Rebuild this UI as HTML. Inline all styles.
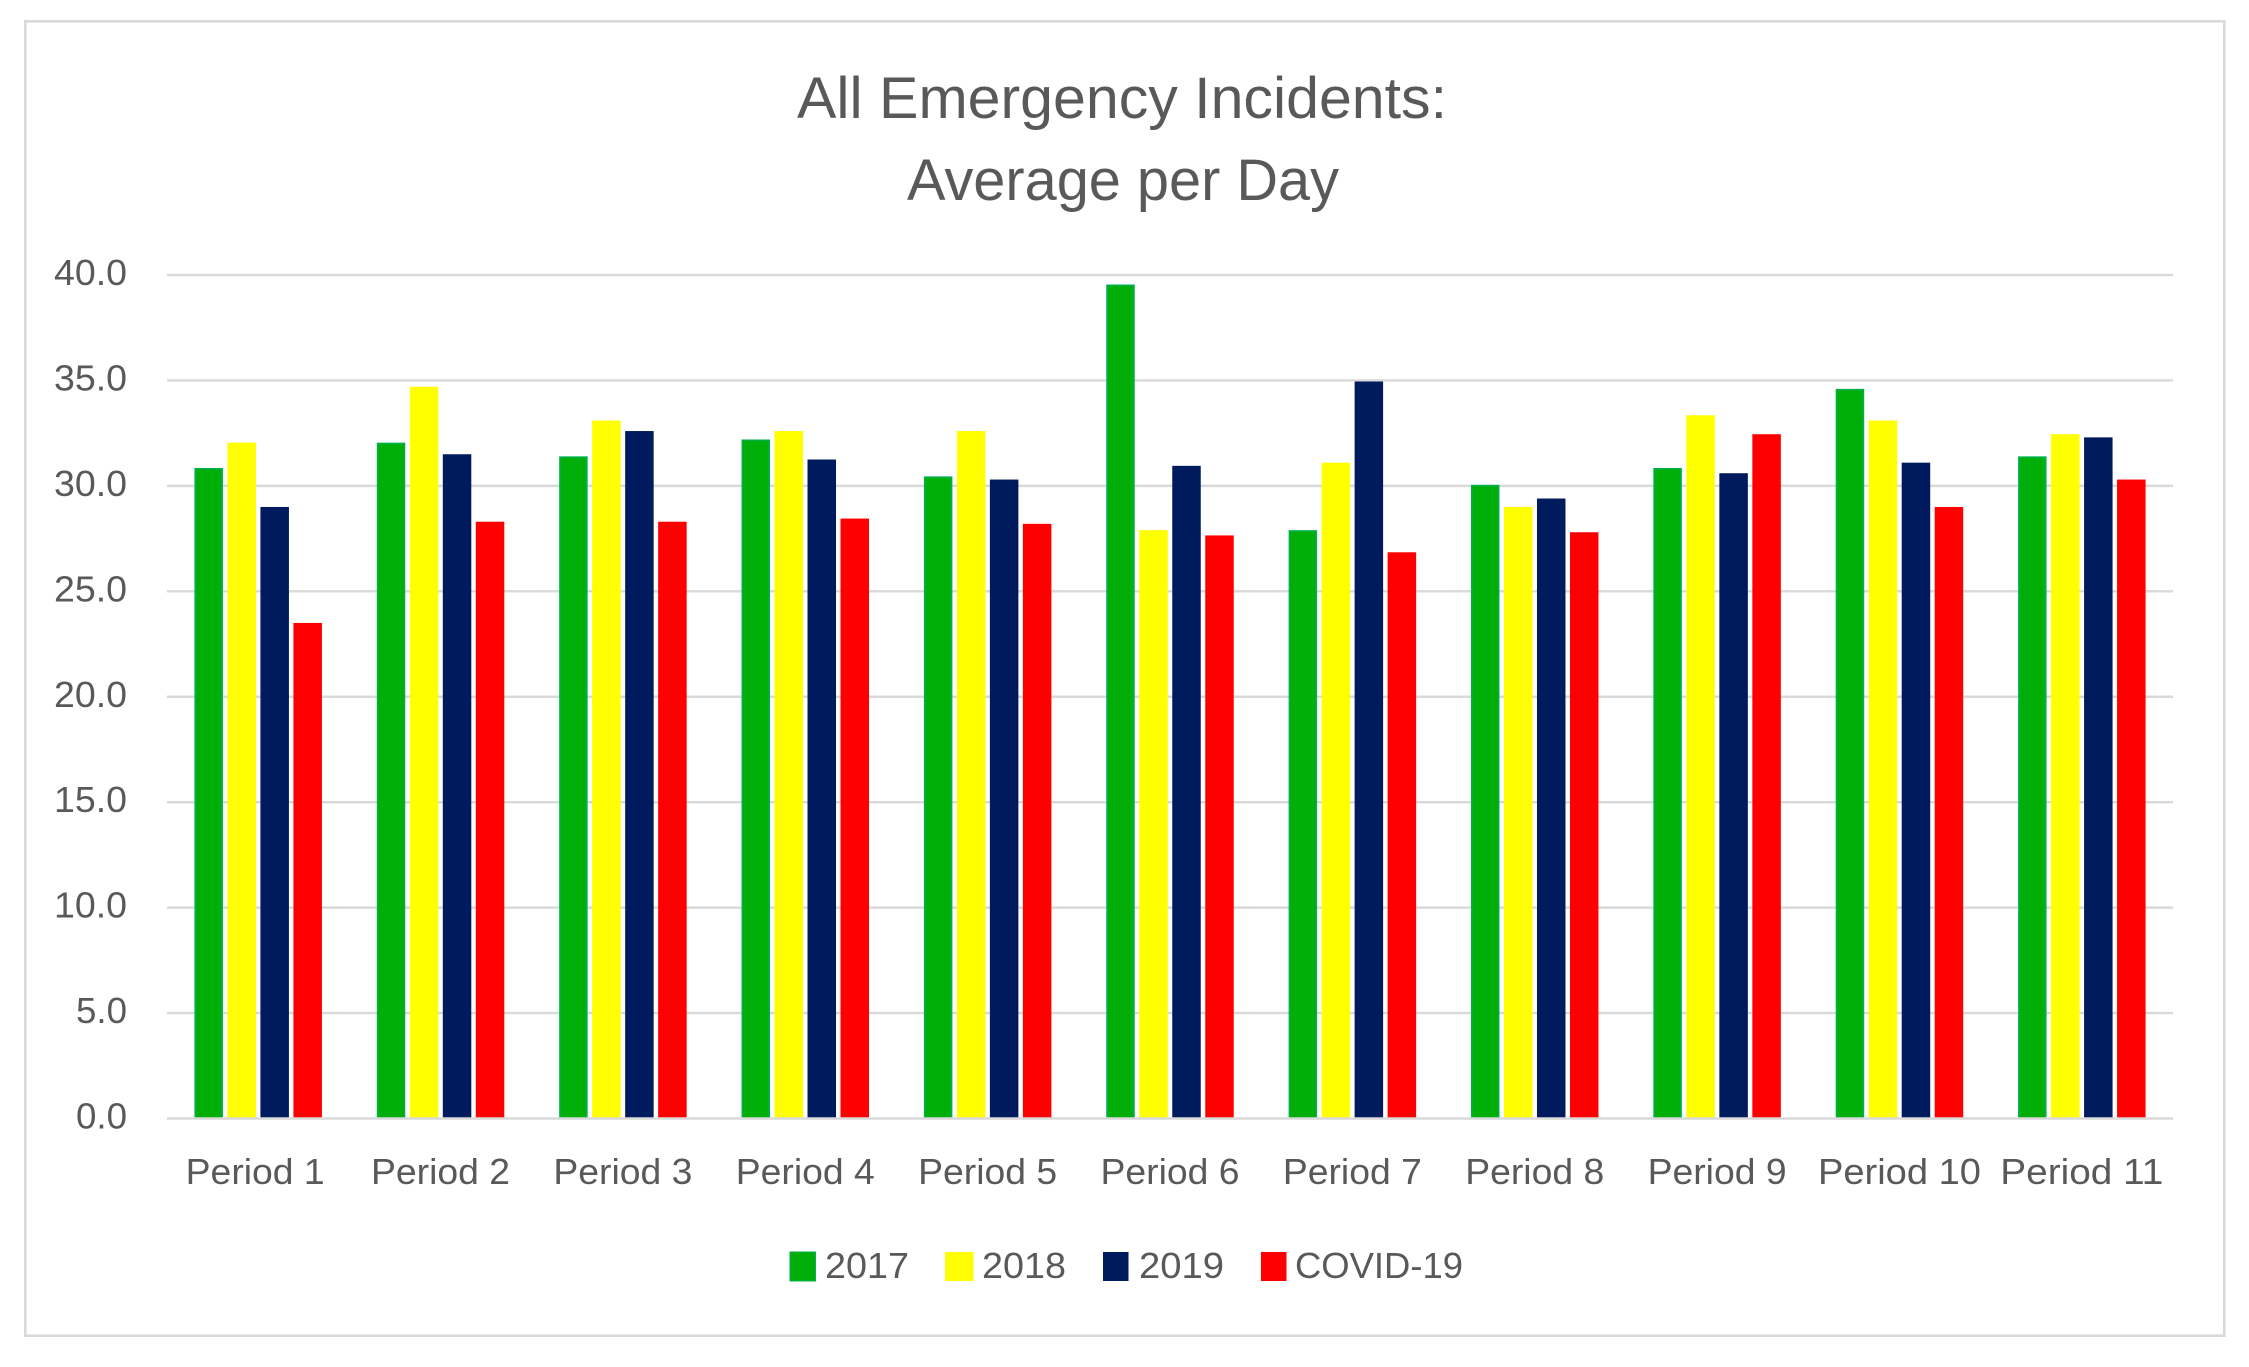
<!DOCTYPE html>
<html lang="en">
<head>
<meta charset="utf-8">
<title>All Emergency Incidents: Average per Day</title>
<style>
  html, body { margin: 0; padding: 0; background: #ffffff; }
  svg { display: block; }
  text { font-family: "Liberation Sans", sans-serif; fill: #595959; }
</style>
</head>
<body>
<svg id="chart" xmlns="http://www.w3.org/2000/svg" width="2249" height="1367" viewBox="0 0 2249 1367">
  <rect x="0" y="0" width="2249" height="1367" fill="#ffffff"/>
  <rect x="25.3" y="21.3" width="2199" height="1314.4" fill="#ffffff" stroke="#d9d9d9" stroke-width="2.6"/>

  <g>
    <text x="1122" y="118" text-anchor="middle" font-size="58" textLength="650" lengthAdjust="spacingAndGlyphs">All Emergency Incidents:</text>
    <text x="1123" y="200" text-anchor="middle" font-size="58" textLength="432" lengthAdjust="spacingAndGlyphs">Average per Day</text>
  </g>

  <g id="grid"></g>
  <g id="y-ticks"></g>
  <g id="bars"></g>
  <g id="axis"></g>
  <g id="x-ticks"></g>

  <g>
    <g>
      <rect x="790" y="1252" width="25.5" height="29" fill="#00ae0a" stroke="#00b04f" stroke-width="1"/>
      <text x="825" y="1278" font-size="36" textLength="84" lengthAdjust="spacingAndGlyphs">2017</text>
    </g>
    <g>
      <rect x="945" y="1252" width="28.5" height="29" fill="#ffff00"/>
      <text x="982" y="1278" font-size="36" textLength="84" lengthAdjust="spacingAndGlyphs">2018</text>
    </g>
    <g>
      <rect x="1103" y="1252" width="25.5" height="29" fill="#001a5e"/>
      <text x="1139" y="1278" font-size="36" textLength="85" lengthAdjust="spacingAndGlyphs">2019</text>
    </g>
    <g>
      <rect x="1261" y="1252" width="25.5" height="29" fill="#ff0000"/>
      <text x="1295" y="1278" font-size="36" textLength="168" lengthAdjust="spacingAndGlyphs">COVID-19</text>
    </g>
  </g>
</svg>

<script>
const categories = ["Period 1", "Period 2", "Period 3", "Period 4", "Period 5", "Period 6", "Period 7", "Period 8", "Period 9", "Period 10", "Period 11"];
const seriesNames = ["2017", "2018", "2019", "COVID-19"];
const values2017 = [30.85, 32.05, 31.4, 32.2, 30.45, 39.55, 27.9, 30.05, 30.85, 34.6, 31.4];
const values2018 = [32.05, 34.7, 33.1, 32.6, 32.6, 27.9, 31.1, 29.0, 33.35, 33.1, 32.45];
const values2019 = [29.0, 31.5, 32.6, 31.25, 30.3, 30.95, 34.95, 29.4, 30.6, 31.1, 32.3];
const valuesCovid = [23.5, 28.3, 28.3, 28.45, 28.2, 27.65, 26.85, 27.8, 32.45, 29.0, 30.3];
const tickValues = [0, 5, 10, 15, 20, 25, 30, 35, 40];
const tickLabels = ["0.0", "5.0", "10.0", "15.0", "20.0", "25.0", "30.0", "35.0", "40.0"];

const allSeries = [values2017, values2018, values2019, valuesCovid];

const SVG_NS = "http://www.w3.org/2000/svg";
const plotLeft = 167, plotRight = 2173, plotBottom = 1118.5, plotTop = 275;
const axisMax = 40;
const barWidth = 28.5, barGap = 4.5;

const fills = ["#00ae0a", "#ffff00", "#001a5e", "#ff0000"];
const strokes = ["#00b04f", "none", "none", "none"];

function yScale(v) {
  return plotBottom - (v / axisMax) * (plotBottom - plotTop);
}
function groupCenter(i) {
  return plotLeft + (plotRight - plotLeft) / categories.length * (i + 0.5);
}
function barLeft(i, s) {
  const total = seriesNames.length * barWidth + (seriesNames.length - 1) * barGap;
  return groupCenter(i) - total / 2 + s * (barWidth + barGap);
}
function slug(t) {
  return t.toLowerCase().replace(/[^a-z0-9]+/g, "-");
}
function make(tag, attrs, parent, content) {
  const el = document.createElementNS(SVG_NS, tag);
  for (const k in attrs) el.setAttribute(k, attrs[k]);
  if (content !== undefined) el.textContent = content;
  parent.appendChild(el);
  return el;
}

const gridGroup = document.getElementById("grid");
const yTickGroup = document.getElementById("y-ticks");
const barGroup = document.getElementById("bars");
const axisGroup = document.getElementById("axis");
const xTickGroup = document.getElementById("x-ticks");

tickValues.forEach(function (v, i) {
  const parent = v === 0 ? axisGroup : gridGroup;
  const line = make("line", { x1: plotLeft, x2: plotRight, y1: yScale(v), y2: yScale(v), stroke: "#d9d9d9", "stroke-width": 2.4 }, parent);
  
  

  const label = make("text", {
    x: 127, y: yScale(v) + 10, "text-anchor": "end", "font-size": 36,
    textLength: tickLabels[i].length === 4 ? 73 : 51, lengthAdjust: "spacingAndGlyphs"
  }, yTickGroup, tickLabels[i]);
  
  
});

categories.forEach(function (cat, i) {
  allSeries.forEach(function (vals, s) {
    const top = yScale(vals[i]);
    const hasStroke = strokes[s] !== "none";
    const inset = hasStroke ? 0.75 : 0;
    const bar = make("rect", {
      x: barLeft(i, s) + inset,
      y: top + inset,
      width: barWidth - inset * 2,
      height: Math.max(0, plotBottom - top - inset),
      fill: fills[s],
      stroke: strokes[s],
      "stroke-width": hasStroke ? 1.5 : 0
    }, barGroup);
    
    
  });

  const label = make("text", {
    x: groupCenter(i) - (i === 0 ? 3 : 0), y: 1184, "text-anchor": "middle", "font-size": 36,
    textLength: cat.length > 8 ? 163 : 139, lengthAdjust: "spacingAndGlyphs"
  }, xTickGroup, cat);
  
  
});
</script>
</body>
</html>
